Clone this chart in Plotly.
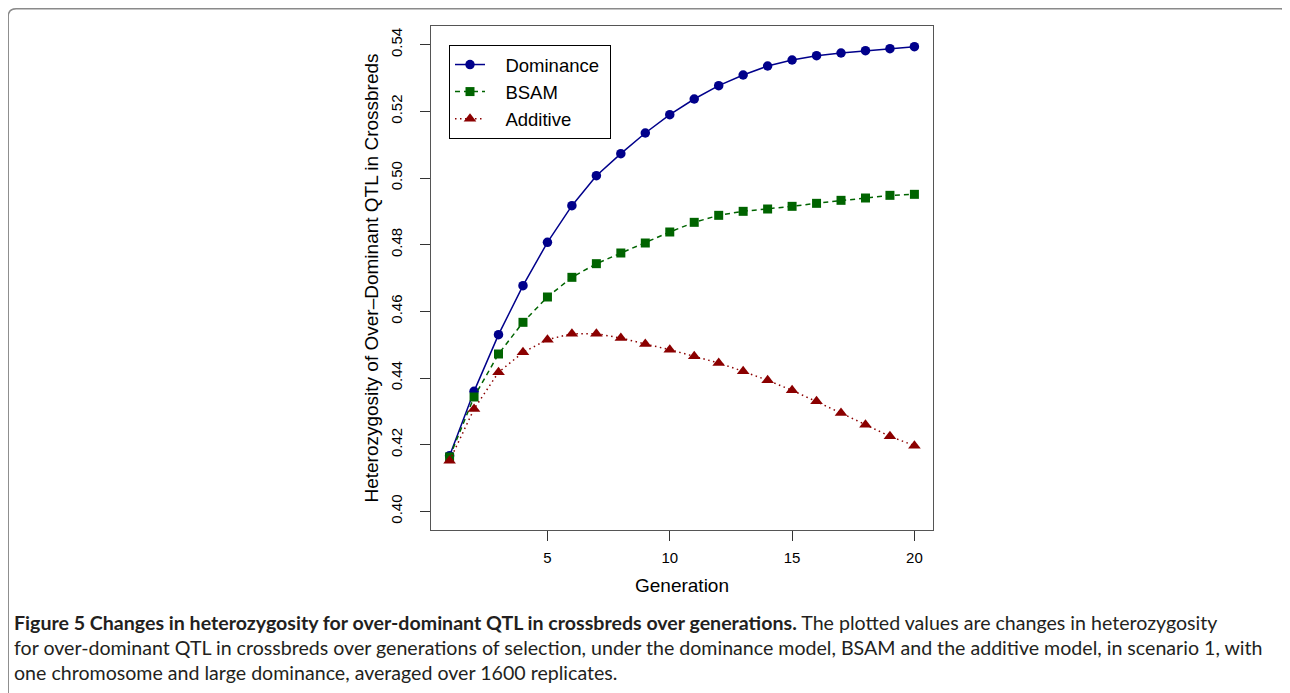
import plotly.graph_objects as go

# ---- data ----
generation = list(range(1, 21))
dominance = [0.4167, 0.4360, 0.4530, 0.4677, 0.4807, 0.4917, 0.5007, 0.5073, 0.5135, 0.5190,
             0.5237, 0.5277, 0.5309, 0.5336, 0.5354, 0.5367, 0.5375, 0.5382, 0.5388, 0.5394]
bsam = [0.4163, 0.4343, 0.4472, 0.4567, 0.4643, 0.4702, 0.4743, 0.4775, 0.4805, 0.4838,
        0.4867, 0.4888, 0.4900, 0.4907, 0.4915, 0.4924, 0.4933, 0.4940, 0.4948, 0.4951]
additive = [0.4152, 0.4307, 0.4417, 0.4477, 0.4515, 0.4533, 0.4533, 0.4520, 0.4502, 0.4485,
            0.4465, 0.4445, 0.4420, 0.4393, 0.4363, 0.4330, 0.4295, 0.4260, 0.4225, 0.4197]
series_names = ["Dominance", "BSAM", "Additive"]
x_ticks = [5, 10, 15, 20]
y_ticks = [0.40, 0.42, 0.44, 0.46, 0.48, 0.50, 0.52, 0.54]

# the page body has an 8px margin, so work in screen pixels minus that offset
OFF = 8
W, H = 1282, 685
L, T = 431 - OFF, 26 - OFF
PW, PH = 502, 504
R, B = W - L - PW, H - T - PH

def px(x):
    return (x - OFF - L) / PW

def py(y):
    return 1 - (y - OFF - T) / PH

def legend_label(s):
    # non-breaking spaces push the text away from the symbol, as in the R legend
    return "\u00a0\u00a0\u00a0" + s + "\u00a0"

AX_FONT = "Liberation Sans, Arial, Helvetica, sans-serif"

fig = go.Figure()
fig.add_trace(go.Scatter(
    x=generation, y=dominance, name=legend_label(series_names[0]), mode="lines+markers",
    line=dict(color="#00008B", width=1.5),
    marker=dict(symbol="circle", size=9.5, color="#00008B")))
fig.add_trace(go.Scatter(
    x=generation, y=bsam, name=legend_label(series_names[1]), mode="lines+markers",
    line=dict(color="#006400", width=1.5, dash="5px,4px"),
    marker=dict(symbol="square", size=9, color="#006400")))
fig.add_trace(go.Scatter(
    x=generation, y=additive, name=legend_label(series_names[2]), mode="lines+markers",
    line=dict(color="#8B0000", width=1.5, dash="1.5px,3.5px"),
    marker=dict(symbol="triangle-up", size=11, color="#8B0000")))

# rounded figure frame
r = 8
x0, x1, y0, y1 = 8.2, 1288.5, 8.8, 720
path = (f"M{px(x0)},{py(y1)} L{px(x0)},{py(y0 + r)} Q{px(x0)},{py(y0)} {px(x0 + r)},{py(y0)} "
        f"L{px(x1 - r)},{py(y0)} Q{px(x1)},{py(y0)} {px(x1)},{py(y0 + r)} L{px(x1)},{py(y1)}")

caption_font = "Lato, Open Sans, sans-serif"
cap1 = ("<b>Figure 5 Changes in heterozygosity for over-dominant QTL in crossbreds over generations.</b>"
        " The plotted values are changes in heterozygosity")
cap2 = ("for over-dominant QTL in crossbreds over generations of selection, under the dominance model, "
        "BSAM and the additive model, in scenario 1, with")
cap3 = "one chromosome and large dominance, averaged over 1600 replicates."

annotations = []
for i, t in enumerate([cap1, cap2, cap3]):
    annotations.append(dict(
        text=t, xref="paper", yref="paper", x=px(12), y=py(622 + 25 * i),
        xanchor="left", yanchor="middle", showarrow=False,
        font=dict(family=caption_font, size=19.6, color="#231f20")))

fig.update_layout(
    width=W, height=H,
    margin=dict(l=L, r=R, t=T, b=B, autoexpand=False),
    paper_bgcolor="white", plot_bgcolor="white",
    font=dict(family=AX_FONT, color="#000000"),
    showlegend=True,
    legend=dict(x=px(449), y=py(45), xanchor="left", yanchor="top",
                bordercolor="#000000", borderwidth=1, bgcolor="white",
                font=dict(size=18.5, family=AX_FONT), tracegroupgap=0),
    xaxis=dict(range=[0.24, 20.76], tickvals=x_ticks, ticks="outside", ticklen=10,
               tickwidth=1, tickcolor="#333", showline=True, linecolor="#555",
               linewidth=1.3, mirror=True, showgrid=False, zeroline=False,
               ticklabelstandoff=4,
               tickfont=dict(size=15, family=AX_FONT),
               title=dict(text="Generation", font=dict(size=19, family=AX_FONT), standoff=13)),
    yaxis=dict(range=[0.3944, 0.5456], tickvals=y_ticks, tickformat=".2f", ticks="outside",
               ticklen=10, tickwidth=1, tickcolor="#333", showline=True, linecolor="#555",
               linewidth=1.3, mirror=True, showgrid=False, zeroline=False, tickangle=-90,
               ticklabelstandoff=12,
               tickfont=dict(size=15, family=AX_FONT),
               title=dict(text="Heterozygosity of Over\u2013Dominant QTL in Crossbreds",
                          font=dict(size=19, family=AX_FONT), standoff=4)),
    shapes=[dict(type="path", path=path, xref="paper", yref="paper",
                 line=dict(color="#8a8a8a", width=1.5))],
    annotations=annotations,
)

fig.write_html("out.html")
